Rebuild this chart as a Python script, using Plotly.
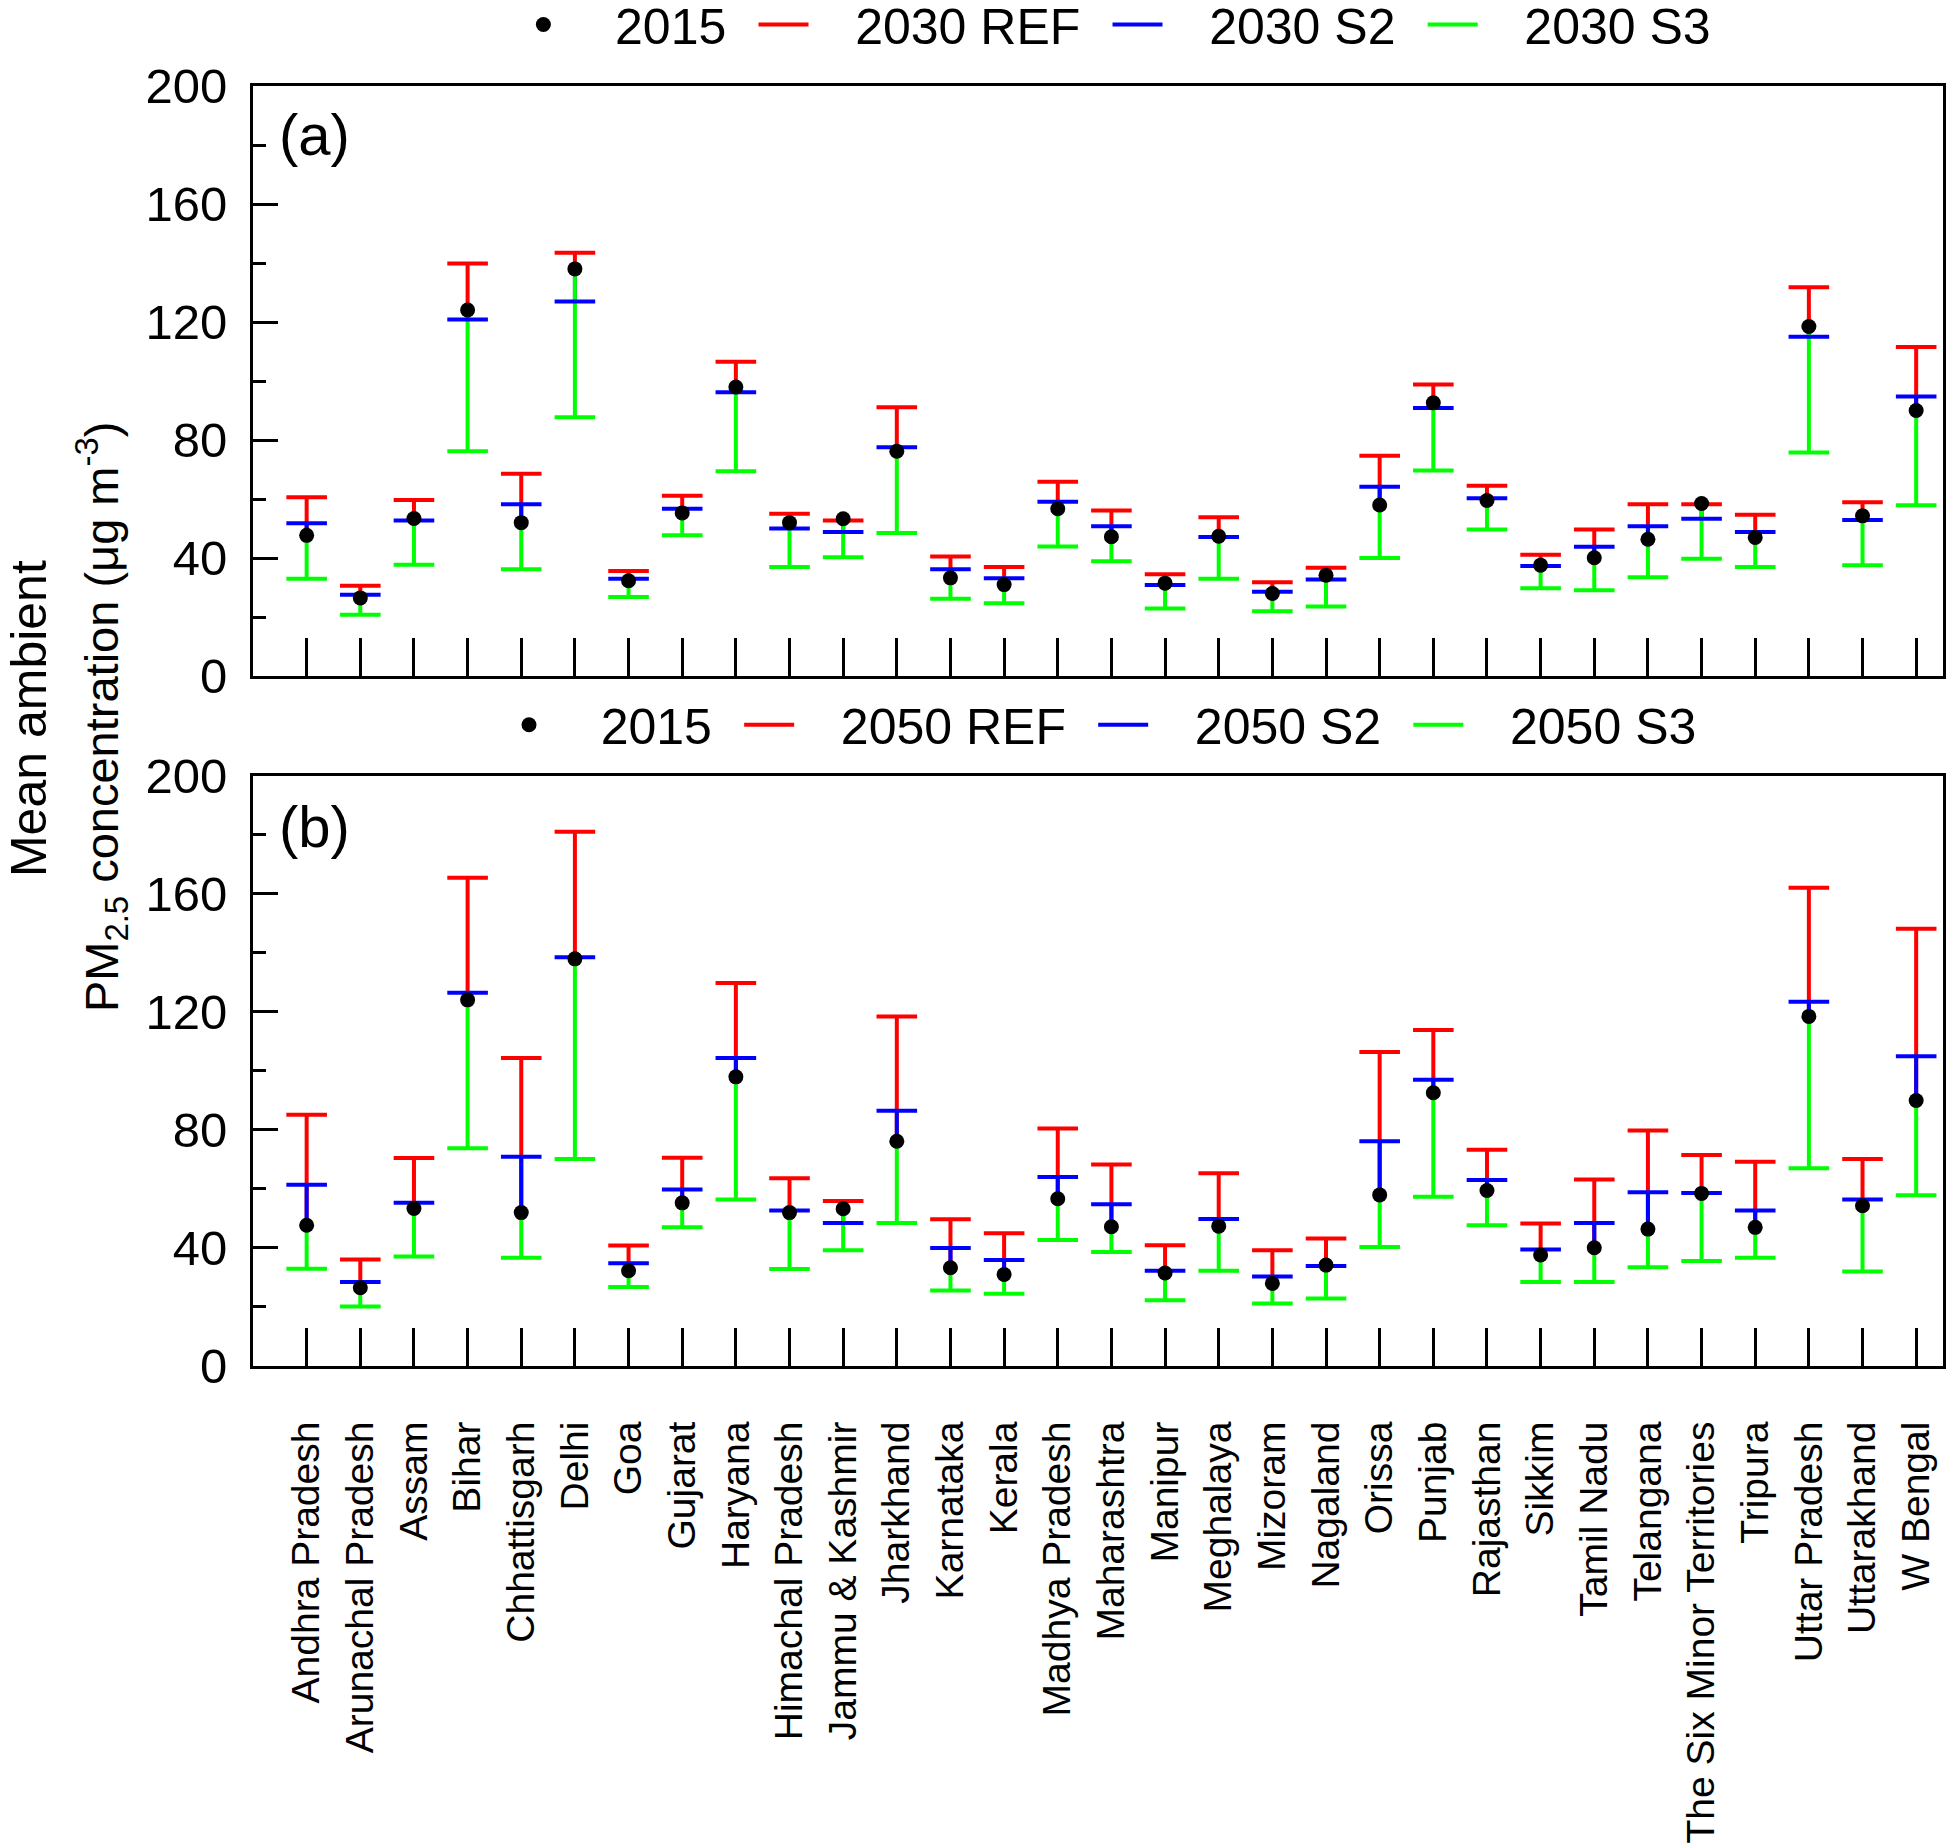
import plotly.graph_objects as go

states = [
    "Andhra Pradesh", "Arunachal Pradesh", "Assam", "Bihar", "Chhattisgarh",
    "Delhi", "Goa", "Gujarat", "Haryana", "Himachal Pradesh", "Jammu & Kashmir",
    "Jharkhand", "Karnataka", "Kerala", "Madhya Pradesh", "Maharashtra",
    "Manipur", "Meghalaya", "Mizoram", "Nagaland", "Orissa", "Punjab",
    "Rajasthan", "Sikkim", "Tamil Nadu", "Telangana", "The Six Minor Territories",
    "Tripura", "Uttar Pradesh", "Uttarakhand", "W Bengal",
]

pm_2015 = [47.7, 26.5, 53.4, 124.1, 52.0, 138.0, 32.3, 55.3, 98.0, 52.0, 53.3,
           76.2, 33.3, 31.0, 56.7, 47.2, 31.5, 47.4, 28.0, 34.2, 58.0, 92.6,
           59.5, 37.6, 40.1, 46.4, 58.5, 47.0, 118.5, 54.3, 90.0]

ref_2030 = [60.6, 30.6, 59.7, 139.8, 68.6, 143.5, 35.6, 61.1, 106.5, 55.0, 52.7,
            91.1, 40.5, 37.0, 65.9, 56.1, 34.5, 53.8, 31.8, 36.7, 74.7, 98.8,
            64.5, 41.1, 49.7, 58.2, 58.2, 54.7, 131.8, 58.9, 111.5]
s2_2030 = [51.8, 27.6, 52.7, 120.9, 58.2, 127.0, 33.0, 56.7, 96.2, 50.0, 48.8,
           77.6, 36.2, 33.2, 59.1, 50.8, 30.9, 47.1, 28.6, 32.7, 64.2, 90.9,
           60.3, 37.3, 43.8, 50.8, 53.3, 48.8, 115.0, 52.9, 94.8]
s3_2030 = [33.0, 20.8, 37.7, 76.2, 36.2, 87.7, 26.8, 47.7, 69.4, 37.0, 40.3,
           48.5, 26.2, 24.7, 43.9, 38.9, 22.9, 33.0, 22.0, 23.6, 40.0, 69.7,
           49.7, 29.8, 29.1, 33.5, 39.8, 37.0, 75.8, 37.6, 57.9]

ref_2050 = [85.2, 36.1, 70.5, 165.5, 104.4, 181.1, 40.8, 70.6, 129.8, 63.6, 55.9,
            118.5, 49.7, 45.0, 80.5, 68.3, 40.9, 65.3, 39.2, 43.2, 106.4, 113.9,
            73.3, 48.3, 63.2, 79.8, 71.5, 69.2, 162.1, 70.2, 148.2]
s2_2050 = [61.4, 28.5, 55.3, 126.5, 70.9, 138.5, 34.8, 59.8, 104.4, 52.7, 48.5,
           86.5, 40.0, 35.9, 64.1, 54.8, 32.3, 49.8, 30.3, 33.9, 76.2, 97.0,
           63.0, 39.5, 48.5, 58.9, 58.6, 52.7, 123.5, 56.4, 105.0]
s3_2050 = [33.0, 20.2, 37.1, 73.8, 36.7, 70.2, 26.8, 47.0, 56.4, 32.9, 39.2,
           48.5, 25.6, 24.5, 42.7, 38.6, 22.3, 32.3, 21.2, 22.9, 40.3, 57.4,
           47.7, 28.5, 28.5, 33.5, 35.6, 36.7, 67.0, 32.0, 57.9]

FONT = "Liberation Sans, Arial, sans-serif"
RED, BLUE, GREEN = "#ff0000", "#0000ff", "#00ff00"
LEAD = "\u00a0" * 3
TRAIL = "\u00a0\u2006"


def add_panel(fig, xa, ya, legend, scenarios):
    # vertical segments from the 2015 value to each scenario value
    for rank, (name, values, color) in enumerate(scenarios, start=2):
        xs, ys = [], []
        for state, base, val in zip(states, pm_2015, values):
            xs += [state, state, None]
            ys += [base, val, None]
        fig.add_trace(go.Scatter(
            x=xs, y=ys, mode="lines", name=LEAD + name + TRAIL, legend=legend,
            legendrank=rank, line=dict(color=color, width=4), xaxis=xa, yaxis=ya,
        ))
    # caps at the scenario values
    for name, values, color in scenarios:
        fig.add_trace(go.Scatter(
            x=states, y=values, mode="markers", showlegend=False,
            marker=dict(symbol="line-ew", size=29, line=dict(color=color, width=4)),
            xaxis=xa, yaxis=ya,
        ))
    fig.add_trace(go.Scatter(
        x=states, y=pm_2015, mode="markers", name=LEAD + "2015" + TRAIL, legend=legend,
        legendrank=1, marker=dict(color="black", size=15), xaxis=xa, yaxis=ya,
    ))


fig = go.Figure()
add_panel(fig, "x", "y", "legend", [
    ("2030 REF", ref_2030, RED), ("2030 S2", s2_2030, BLUE), ("2030 S3", s3_2030, GREEN),
])
add_panel(fig, "x2", "y2", "legend2", [
    ("2050 REF", ref_2050, RED), ("2050 S2", s2_2050, BLUE), ("2050 S3", s3_2050, GREEN),
])

xaxis_style = dict(
    type="category", categoryorder="array", categoryarray=states,
    range=[-1, 30.5], showline=True, linewidth=3, linecolor="black", mirror=True,
    ticks="inside", ticklen=38, tickwidth=3, tickcolor="black", showgrid=False,
    zeroline=False, tickangle=-90, tickfont=dict(family=FONT, size=39, color="black"),
    ticklabelstandoff=37, automargin=False,
)
yaxis_style = dict(
    range=[0, 200], tickvals=[0, 40, 80, 120, 160, 200], showline=True, linewidth=3,
    linecolor="black", mirror=True, ticks="inside", ticklen=25, tickwidth=3,
    tickcolor="black", showgrid=False, zeroline=False, automargin=False,
    tickfont=dict(family=FONT, size=49, color="black"), ticklabelstandoff=13,
    minor=dict(tickvals=[20, 60, 100, 140, 180], ticks="inside", ticklen=13,
               tickwidth=3, tickcolor="black"),
)

legend_style = dict(
    orientation="h", xanchor="center", yanchor="middle", bgcolor="rgba(0,0,0,0)",
    font=dict(family=FONT, size=50, color="black"), itemsizing="trace",
    traceorder="normal", itemwidth=50,
)

fig.update_layout(
    width=1950, height=1847,
    margin=dict(l=253, r=7, t=86, b=481, autoexpand=False),
    paper_bgcolor="white", plot_bgcolor="white",
    font=dict(family=FONT, color="black"),
    xaxis=dict(xaxis_style, anchor="y", showticklabels=False),
    yaxis=dict(yaxis_style, domain=[0.539, 1], anchor="x"),
    xaxis2=dict(xaxis_style, anchor="y2"),
    yaxis2=dict(yaxis_style, domain=[0, 0.461], anchor="x2"),
    legend=dict(legend_style, x=0.5165, y=1.048),
    legend2=dict(legend_style, x=0.508, y=0.501),
    annotations=[
        dict(text="(a)", xref="x domain", yref="y domain", x=0.0142, y=0.917,
             xanchor="left", yanchor="middle", showarrow=False,
             font=dict(family=FONT, size=58)),
        dict(text="(b)", xref="x2 domain", yref="y2 domain", x=0.0142, y=0.915,
             xanchor="left", yanchor="middle", showarrow=False,
             font=dict(family=FONT, size=58)),
        dict(text="Mean ambient", xref="paper", yref="paper", x=-0.1325, y=0.5055,
             textangle=-90, xanchor="center", yanchor="middle", showarrow=False,
             font=dict(family=FONT, size=50)),
        dict(text="PM<sub>2.5</sub> concentration (\u03bcg m<sup>-3</sup>)",
             xref="paper", yref="paper", x=-0.0899, y=0.507, textangle=-90,
             xanchor="center", yanchor="middle", showarrow=False,
             font=dict(family=FONT, size=47)),
    ],
)

fig.write_html(
    "out.html",
    config={"displayModeBar": False},
    post_script="document.body.style.margin = '0';",
)
